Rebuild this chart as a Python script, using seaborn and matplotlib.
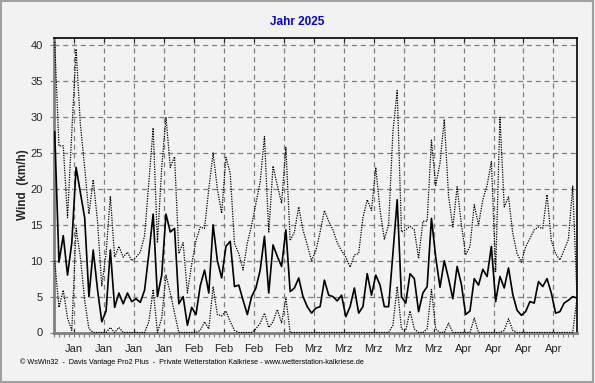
import numpy as np
import pandas as pd
import seaborn as sns
import matplotlib.pyplot as plt
from matplotlib.patches import Rectangle
from matplotlib.ticker import FixedLocator

# Tageswerte Wind (km/h), 1. Jan 2025 bis 3. Mai 2025
tag = np.arange(123)

mittel = [28, 9.8, 13.5, 8, 12.5, 23, 19.5, 16, 5, 11.5,
          6, 1.5, 3, 11.5, 3.5, 5.5, 4, 5.5, 4.3, 4.7,
          4.2, 5.9, 11, 16.5, 5, 8, 16.5, 14, 14.5, 4,
          5, 1, 3.5, 2.5, 6.5, 8.7, 5.5, 15, 10, 7.6,
          12, 12.7, 6.4, 6.6, 4.5, 2.5, 5, 6.2, 8.7, 13.4,
          5.5, 12.2, 10.6, 9.2, 14.3, 5.7, 6.2, 7.6, 5, 3.6,
          2.7, 3.4, 3.6, 7.3, 5.2, 5, 4.4, 5.2, 2.2, 3.6,
          6.2, 2.7, 3.6, 8.2, 5.2, 8, 6.6, 3.6, 3.6, 11,
          18.5, 5, 4.1, 8.2, 7.5, 2.9, 5.5, 6.4, 15.9, 10.5,
          6.3, 10, 7.5, 4.7, 9.2, 6.7, 2.5, 3, 7.5, 6.6,
          8.8, 7.8, 12, 4.3, 7.8, 6.2, 9, 5.3, 3.1, 2.4,
          2.9, 4.3, 4.1, 7.1, 6.4, 7.5, 5.5, 2.7, 2.9, 4.1,
          4.5, 5, 4.8]

maximum = [40.5, 26, 26, 16, 28, 39.5, 29, 23, 16.5, 21.3,
           15.5, 6.5, 11, 19, 10.5, 12, 10.5, 11.2, 10, 10.5,
           11.2, 13.5, 21, 28.5, 12.5, 23, 30, 23, 24.5, 11,
           12.5, 5.5, 9.5, 12.8, 14.7, 14.5, 20, 25, 20, 16.6,
           24.4, 22.2, 12.4, 11, 8.7, 12.5, 14.9, 18, 21, 27.3,
           13.9, 23.2, 20.5, 18, 25.8, 12.8, 14, 17.5, 14.3, 12.2,
           10, 11.4, 14, 17, 15.5, 14.3, 12.5, 11.4, 10.5, 9.1,
           10.8, 11, 16, 18.5, 17, 23, 17, 13, 15, 28,
           33.7, 14, 14.3, 14.8, 14.3, 10.3, 15.5, 15.5, 26.8, 20.5,
           23.6, 29.7, 19, 14.7, 20.3, 15, 10.8, 12, 17.8, 15,
           18.5, 20.5, 23.8, 8.5, 30, 17.5, 18.9, 13.8, 11, 9.8,
           11.9, 13.1, 14.3, 14.7, 14.5, 19.2, 12.8, 11, 10.1, 11.5,
           13, 20.4, 5]

minimum = [10, 3.5, 5.9, 2, 0.3, 14.5, 10.5, 4.5, 0.5, 0,
           0, 0, 0, 0.7, 0, 0.7, 0, 0, 0, 0,
           0, 0, 1.5, 6, 0, 2, 8, 5.5, 2.7, 0,
           0, 0, 0, 0, 0.3, 1.5, 0.5, 6.4, 2.5, 2.3,
           3, 1.5, 0.3, 0, 0, 0, 0, 0.5, 1.3, 2.7,
           0.7, 1.5, 3.2, 1.3, 4.8, 0, 0, 0, 0, 0,
           0, 0, 0, 0, 0, 0, 0, 0, 0, 0,
           0, 0, 0, 0, 0, 0, 0, 0, 0, 1,
           6.4, 0.5, 0.3, 3, 0.5, 0, 0, 0.5, 6, 0.5,
           0, 0, 1.3, 0, 0, 0, 0, 0, 2, 0,
           0, 0, 0, 0, 0, 0.3, 1.9, 0.3, 0, 0,
           0, 0, 0, 0, 0, 0, 0, 0, 0, 0,
           0, 0, 4.8]

# Wochenraster (Montage), Beschriftung
wochen = 4.5 + 7 * np.arange(17)
wochen_labels = ['Jan'] * 4 + ['Feb'] * 4 + ['Mrz'] * 5 + ['Apr'] * 4

df = pd.DataFrame({'tag': tag, 'mittel': mittel, 'max': maximum, 'min': minimum})

sns.set_style('ticks')
plt.rcParams['font.family'] = ['Liberation Sans', 'DejaVu Sans']

bg = '#f2f2f2'
fig = plt.figure(figsize=(5.95, 3.83), dpi=100, facecolor=bg)
ax = fig.add_axes([54 / 595, 1 - 332.5 / 383, 523 / 595, 295 / 383])
ax.set_facecolor(bg)

sns.lineplot(data=df, x='tag', y='max', ax=ax, color='black', lw=0.9,
             zorder=3).lines[-1].set_dashes((1, 1))
sns.lineplot(data=df, x='tag', y='min', ax=ax, color='black', lw=0.9,
             zorder=3).lines[-1].set_dashes((1, 1))
sns.lineplot(data=df, x='tag', y='mittel', ax=ax, color='black', lw=1.2,
             zorder=4)

ax.set_xlim(-0.16, 122)
ax.set_ylim(0, 41.1)

ax.set_xticks(wochen)
ax.set_xticklabels(wochen_labels, fontsize=8)
ax.xaxis.set_minor_locator(FixedLocator(np.arange(-0.16, 122, 7 / 6)))
ax.set_yticks(np.arange(0, 41, 5))
ax.set_yticklabels([str(v) for v in range(0, 41, 5)], fontsize=8)

ax.grid(True, which='major', color='#808080', linestyle=(0, (4, 3)), lw=0.9)
ax.tick_params(axis='x', which='major', length=0, pad=8)
ax.tick_params(axis='x', which='minor', length=3, color='#808080', width=0.8)
ax.tick_params(axis='y', which='major', length=3, color='#808080', pad=5)
ax.tick_params(axis='x', which='major', top=True, direction='in', length=3)

for s in ['top', 'right']:
    ax.spines[s].set_color('black')
    ax.spines[s].set_linewidth(1.2)
for s in ['left', 'bottom']:
    ax.spines[s].set_color('#808080')
    ax.spines[s].set_linewidth(2)

ax.set_xlabel('')
ax.set_ylabel('Wind  (km/h)', fontsize=8.5, fontweight='bold', labelpad=1)

fig.text(0.5, 1 - 22 / 383, 'Jahr 2025', ha='center', va='center',
         color='#0000ff', fontsize=8.5, fontweight='bold')
fig.text(20 / 595, 1 - 362 / 383,
         '\u00a9 WsWin32  -  Davis Vantage Pro2 Plus  -  Private Wetterstation Kalkriese - www.wetterstation-kalkriese.de',
         ha='left', va='center', fontsize=5.2, color='black')

fig.patches.append(Rectangle((0.001, 0.002), 0.996, 0.996, transform=fig.transFigure,
                             fill=False, edgecolor='#a0a0a0', lw=1.5))

fig.savefig('out.png', dpi=100, facecolor=bg)
